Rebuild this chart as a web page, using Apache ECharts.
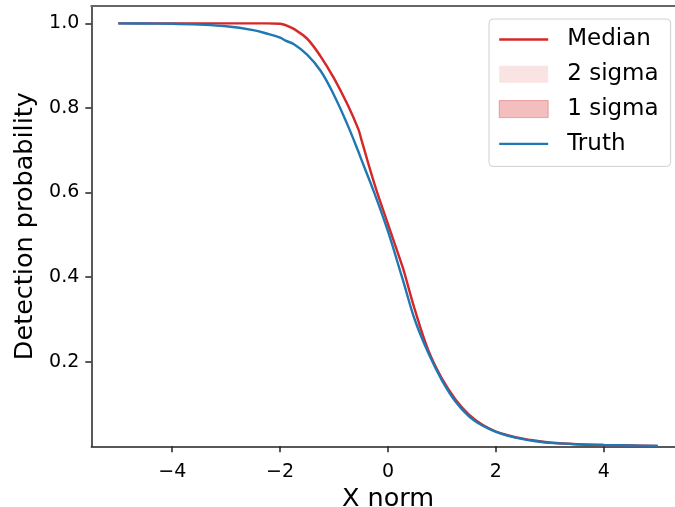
<!DOCTYPE html>
<html><head><meta charset="utf-8">
<script src="https://cdn.jsdelivr.net/npm/echarts@6/dist/echarts.min.js"></script>
<style>html,body{margin:0;padding:0;background:#fff}#c{width:675px;height:507px}</style>
</head><body><div id="c"></div>
<script>
const xValues = [-5,-4.5,-4,-3.5,-3,-2.5,-2.25,-2,-1.9,-1.75,-1.5,-1.25,-1,-0.75,-0.55,-0.5,-0.25,0,0.25,0.3,0.5,0.75,1,1.25,1.5,1.75,2,2.25,2.5,2.75,3,3.5,4,4.5,5];
const medianValues = [1.000,1.000,1.000,1.000,1.000,1.000,1.000,0.999,0.996,0.987,0.964,0.922,0.870,0.808,0.750,0.728,0.620,0.525,0.432,0.412,0.322,0.226,0.160,0.111,0.075,0.051,0.035,0.025,0.018,0.013,0.009,0.005,0.003,0.002,0.001];
const truthValues = [1.000,0.9995,0.999,0.997,0.993,0.984,0.976,0.966,0.959,0.951,0.926,0.888,0.830,0.760,0.697,0.680,0.598,0.508,0.404,0.383,0.298,0.220,0.156,0.106,0.071,0.049,0.034,0.024,0.017,0.012,0.008,0.005,0.003,0.002,0.001];
const sigma1Half = [0,0,0,0,0,0,0,0.001,0.002,0.003,0.003,0.003,0.003,0.003,0.003,0.003,0.003,0.003,0.003,0.003,0.003,0.003,0.002,0.002,0.002,0.001,0.001,0.001,0.001,0.001,0.001,0,0,0,0];
const sigma2Half = [0,0,0,0,0,0,0,0.002,0.004,0.005,0.006,0.006,0.006,0.006,0.006,0.006,0.006,0.006,0.006,0.006,0.006,0.005,0.004,0.004,0.003,0.002,0.002,0.002,0.001,0.001,0.001,0.001,0,0,0];
const xTicks = [-4,-2,0,2,4];
const yTicks = [0.2,0.4,0.6,0.8,1.0];

const FONT = 'DejaVu Sans';
const pairs = ys => xValues.map((x,i)=>[x, ys[i]]);
const bandRows = half => xValues.map((x,i)=>[x, medianValues[i]-half[i], medianValues[i]+half[i]]);
const fmtX = v => v < 0 ? '\u2212' + Math.abs(v) : String(v);

function bandRenderer(fill){
  return function(params, api){
    if (params.dataIndex !== 0) return null;
    const n = xValues.length;
    const upper = [], lower = [];
    for (let i = 0; i < n; i++){
      upper.push(api.coord([api.value(0, i), api.value(2, i)]));
      lower.push(api.coord([api.value(0, i), api.value(1, i)]));
    }
    return {type:'polygon', shape:{points: upper.concat(lower.reverse())}, style:{fill: fill}, silent:true};
  };
}

const chart = echarts.init(document.getElementById('c'), null, {renderer:'canvas'});
chart.setOption({
  animation:false,
  backgroundColor:'#fff',
  textStyle:{fontFamily:FONT},
  grid:{left:91.3, top:6, right:-9.7, bottom:60.7, containLabel:false, outerBoundsMode:'none'},
  legend:{
    orient:'vertical', left:489, top:19,
    padding:[9,12,11,9],
    itemWidth:49, itemHeight:17, itemGap:11.8,
    borderColor:'#d0d0d0', borderWidth:1, borderRadius:4,
    backgroundColor:'rgba(255,255,255,0.8)',
    textStyle:{fontSize:23, color:'#000', fontFamily:FONT, padding:[0,0,0,14]},
    data:[
      {name:'Median', itemStyle:{opacity:0}, lineStyle:{color:'#d62728', width:2.4}},
      {name:'2 sigma', icon:'rect', itemStyle:{color:'rgba(214,39,40,0.13)', borderWidth:0}},
      {name:'1 sigma', icon:'rect', itemStyle:{color:'rgba(214,39,40,0.3)', borderColor:'rgba(214,39,40,0.35)', borderWidth:1}},
      {name:'Truth', itemStyle:{opacity:0}, lineStyle:{color:'#1f77b4', width:2.4}}
    ]
  },
  xAxis:[{
    type:'value', min:-5.5, max:5.5, position:'bottom',
    axisLine:{show:true, onZero:false, lineStyle:{color:'#222', width:1.5}},
    axisTick:{show:true, length:6, customValues:xTicks, lineStyle:{color:'#222', width:1.5}},
    axisLabel:{customValues:xTicks, formatter:fmtX, fontSize:19, color:'#000', margin:16, fontFamily:FONT},
    splitLine:{show:false},
    name:'X norm', nameLocation:'middle', nameGap:38,
    nameTextStyle:{fontSize:25.5, color:'#000', fontFamily:FONT}
  },{
    type:'value', min:-5.5, max:5.5, position:'top',
    axisLine:{show:true, onZero:false, lineStyle:{color:'#666', width:2}},
    axisTick:{show:false}, axisLabel:{show:false}, splitLine:{show:false}
  }],
  yAxis:{
    type:'value', min:0, max:1.041,
    axisLine:{show:true, onZero:false, lineStyle:{color:'#222', width:1.5}},
    axisTick:{show:true, length:6, customValues:yTicks, lineStyle:{color:'#222', width:1.5}},
    axisLabel:{customValues:yTicks, formatter:v=>v.toFixed(1), fontSize:19, color:'#000', margin:12, fontFamily:FONT},
    splitLine:{show:false},
    name:'Detection probability', nameLocation:'middle', nameGap:53,
    nameTextStyle:{fontSize:25.5, color:'#000', fontFamily:FONT}
  },
  series:[
    {name:'2 sigma', type:'custom', data:bandRows(sigma2Half), encode:{x:0, y:[1,2]},
      color:'rgba(214,39,40,0.13)', renderItem:bandRenderer('rgba(214,39,40,0.13)'), clip:true},
    {name:'1 sigma', type:'custom', data:bandRows(sigma1Half), encode:{x:0, y:[1,2]},
      color:'rgba(214,39,40,0.3)', renderItem:bandRenderer('rgba(214,39,40,0.3)'), clip:true},
    {name:'Median', type:'line', data:pairs(medianValues), symbol:'none', smooth:0.4,
      color:'#d62728', lineStyle:{color:'#d62728', width:2.4}},
    {name:'Truth', type:'line', data:pairs(truthValues), symbol:'none', smooth:0.4,
      color:'#1f77b4', lineStyle:{color:'#1f77b4', width:2.4}}
  ]
});
</script></body></html>
